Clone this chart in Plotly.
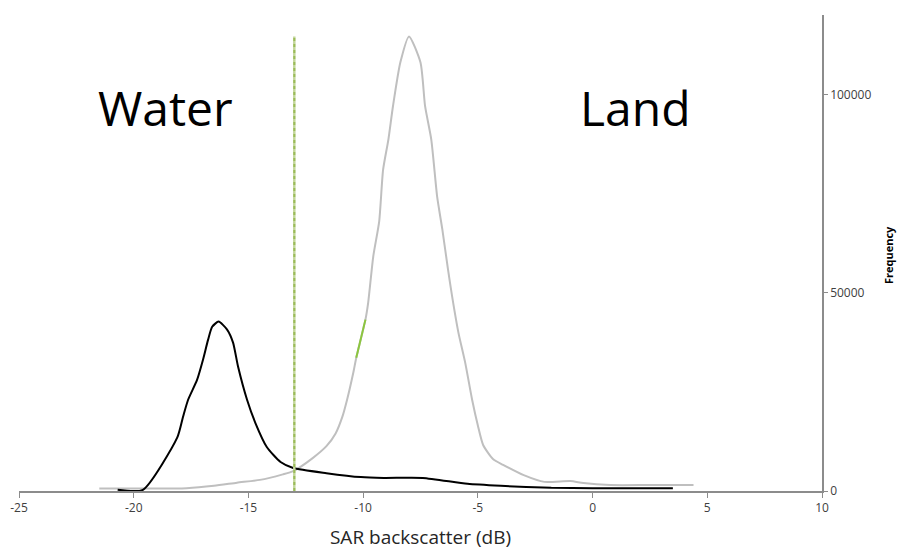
import plotly.graph_objects as go

# Backscatter histograms (dB vs pixel count)
land_db = [-21.5, -19.5, -17.7, -16.5, -15.5, -14.5, -13.5, -13.05, -12.2, -11.6, -11.2,
           -10.9, -10.7, -10.43, -10.3, -9.9, -9.78, -9.56, -9.3, -9.13, -8.9, -8.7, -8.38, -8.0,
           -7.5, -7.3, -7.03, -6.77, -6.55, -6.3, -6.12, -5.85, -5.55, -5.25, -5.0,
           -4.77, -4.33, -3.9, -3.0, -2.1, -0.97, -0.4, 0.77, 2.5, 4.4]
land_freq = [600, 600, 700, 1300, 2100, 2800, 4200, 5000, 8300, 11300, 14500,
             18800, 23000, 29800, 33600, 43200, 47500, 59100, 68000, 81000, 88600, 97000, 108000, 114600,
             108000, 97000, 88600, 74000, 66000, 55800, 49000, 40000, 32300, 23000, 16500,
             11600, 8000, 6600, 4000, 2300, 2500, 2000, 1500, 1500, 1500]

water_db = [-20.7, -19.6, -18.1, -17.85, -17.63, -17.24, -16.98, -16.76, -16.58,
            -16.3, -15.93, -15.67, -15.45, -15.06, -14.7, -14.2, -13.6, -13.05, -11.6,
            -10.1, -9.1, -7.4, -5.45, -4.0, -1.8, 0.0, 3.5]
water_freq = [300, 300, 13500, 18700, 23000, 28000, 33100, 38100, 41400,
              42700, 40700, 37400, 31300, 23000, 17200, 11100, 7300, 5800, 4500,
              3500, 3300, 3300, 1800, 1300, 800, 700, 700]

threshold_db = -13.0
threshold_freq = [0, max(land_freq)]

# short highlighted stretch on the land curve
seg_db = land_db[14:16]
seg_freq = land_freq[14:16]

x_ticks = [-25, -20, -15, -10, -5, 0, 5, 10]
y_ticks = [0, 50000, 100000]

FONT = "Open Sans"
AXIS_GREY = "#8c8c8c"

fig = go.Figure()
fig.add_trace(go.Scatter(x=land_db, y=land_freq, mode="lines",
                         line=dict(color="#bfbfbf", width=2, shape="spline", smoothing=0.6),
                         hoverinfo="skip"))
fig.add_trace(go.Scatter(x=seg_db, y=seg_freq, mode="lines",
                         line=dict(color="#8cc63f", width=2), hoverinfo="skip"))
fig.add_trace(go.Scatter(x=water_db, y=water_freq, mode="lines",
                         line=dict(color="#000000", width=2, shape="spline", smoothing=0.6),
                         hoverinfo="skip"))
fig.add_trace(go.Scatter(x=[threshold_db, threshold_db], y=threshold_freq, mode="lines",
                         line=dict(color="#c3d69b", width=2.5), hoverinfo="skip"))
fig.add_trace(go.Scatter(x=[threshold_db, threshold_db], y=threshold_freq, mode="lines",
                         line=dict(color="#9bbb59", width=2, dash="3px,3px"), hoverinfo="skip"))

fig.update_layout(
    width=901, height=554,
    margin=dict(l=19, r=79, t=15, b=63),
    paper_bgcolor="white", plot_bgcolor="white",
    showlegend=False,
    font=dict(family=FONT, color="#404040"),
    xaxis=dict(range=[-25, 10], tickvals=x_ticks, ticktext=[str(v) for v in x_ticks],
               showgrid=False, zeroline=False, showline=True, linecolor=AXIS_GREY, linewidth=1.5,
               ticks="outside", ticklen=5, tickcolor=AXIS_GREY, tickwidth=1,
               tickfont=dict(size=12, color="#404040"), automargin=False,
               title=dict(text="SAR backscatter (dB)", font=dict(size=19, color="#262626"), standoff=16)),
    yaxis=dict(range=[0, 120000], side="right", tickvals=y_ticks,
               ticktext=[str(v) for v in y_ticks], automargin=False,
               showgrid=False, zeroline=False, showline=True, linecolor=AXIS_GREY, linewidth=1.5,
               ticks="outside", ticklen=4, tickcolor=AXIS_GREY, tickwidth=1,
               tickfont=dict(size=12, color="#404040")),
)

# labels positioned in page pixels, converted to paper coordinates
W, H = 901, 554
l, r, t, b = 19, 79, 15, 63
pw, ph = W - l - r, H - t - b
labels = [("Water", 165, 108, 48, 0), ("Land", 635, 108, 48, 0),
          ("<b>Frequency</b>", 888, 255, 11, -90)]
fig.update_layout(annotations=[
    dict(text=txt, showarrow=False, xref="paper", yref="paper",
         x=(px - l) / pw, y=1 - (py - t) / ph, xanchor="center", yanchor="middle",
         textangle=ang, font=dict(family=FONT, size=size, color="#000000"))
    for txt, px, py, size, ang in labels
])

fig.write_html("out.html")
